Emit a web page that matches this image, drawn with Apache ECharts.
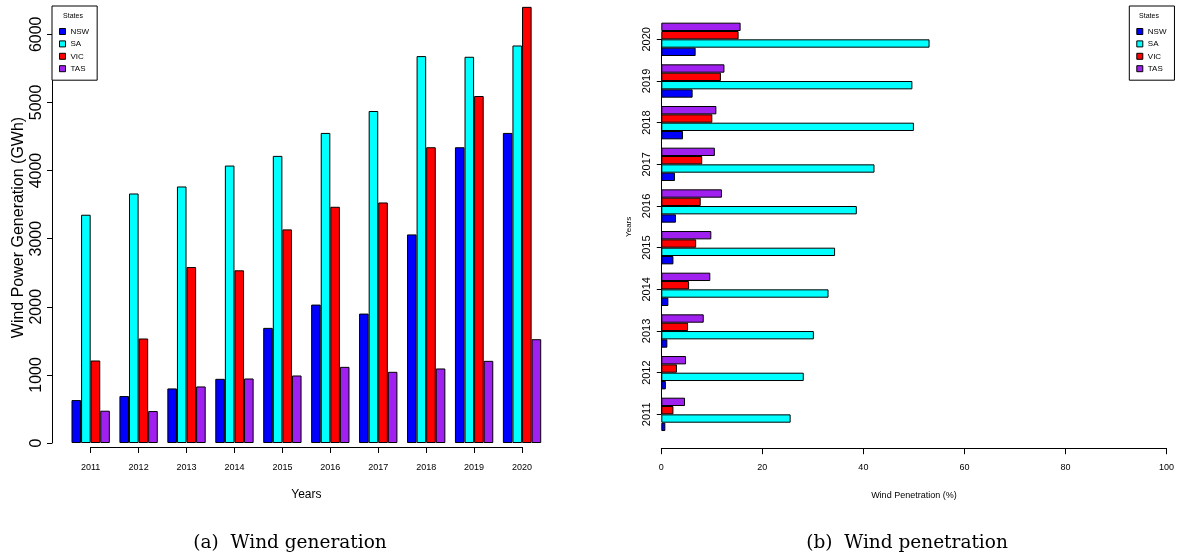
<!DOCTYPE html>
<html><head><meta charset="utf-8">
<script src="https://cdn.jsdelivr.net/npm/echarts@6/dist/echarts.min.js"></script>
<style>html,body{margin:0;padding:0;background:#fff}#c{width:1177px;height:560px}</style>
</head><body><div id="c"></div>
<script>
const years = ['2011','2012','2013','2014','2015','2016','2017','2018','2019','2020'];
const states = ['NSW','SA','VIC','TAS'];
const stateColors = ['#0000FF','#00FFFF','#FF0000','#A020F0'];
// Wind generation (GWh)
const genNSW = [630,689,801,942,1690,2032,1900,3062,4342,4552];
const genSA  = [3351,3663,3766,4073,4215,4552,4874,5680,5670,5836];
const genVIC = [1211,1534,2583,2535,3136,3468,3531,4342,5094,6403];
const genTAS = [474,469,830,947,991,1118,1045,1094,1206,1524];
// Wind penetration (%)
const penNSW = [0.8,0.9,1.2,1.4,2.4,2.9,2.7,4.3,6.2,6.8];
const penSA  = [25.6,28.2,30.2,33.1,34.4,38.7,42.2,50.0,49.7,53.1];
const penVIC = [2.4,3.1,5.3,5.5,6.9,7.8,8.1,10.1,11.8,15.3];
const penTAS = [4.7,4.9,8.4,9.7,9.9,12.0,10.6,10.9,12.5,15.7];
const genAxis = {min:0, max:6000, interval:1000};
const penAxis = {min:0, max:100, interval:20};

const gen = [genNSW, genSA, genVIC, genTAS];
const pen = [penNSW, penSA, penVIC, penTAS];
const SANS = '"Liberation Sans",Arial,sans-serif';
const SERIF = '"DejaVu Serif",serif';
const axisBlack = {lineStyle:{color:'#000', width:1}};

const series = [];
states.forEach((s,i)=>{
  series.push({name:s, type:'bar', xAxisIndex:0, yAxisIndex:0, data:gen[i],
    barGap:'0%', barCategoryGap:'20%', clip:false,
    itemStyle:{color:stateColors[i], borderColor:'#000', borderWidth:1}});
});
// horizontal chart: later series drawn lower, so add in reverse to put NSW at the bottom
for (let i = states.length-1; i >= 0; i--) {
  series.push({name:states[i], type:'bar', xAxisIndex:2, yAxisIndex:2, data:pen[i],
    barGap:'0%', barCategoryGap:'20%',
    itemStyle:{color:stateColors[i], borderColor:'#000', borderWidth:1}});
}

function legendAt(left){
  return {orient:'vertical', left:left, top:6, padding:[21,8,7,7], data:states,
    itemWidth:6, itemHeight:6, itemGap:3.4, itemTextGap:5, icon:'rect', borderColor:'#000', borderWidth:1,
    backgroundColor:'#fff', selectedMode:false,
    itemStyle:{borderColor:'#000', borderWidth:1},
    textStyle:{fontFamily:SANS, fontSize:8, lineHeight:9, color:'#000'}};
}

const option = {
  backgroundColor:'#fff',
  animation:false,
  grid:[
    {left:66.7, right:631, top:34.3, bottom:117},
    {left:90.7, right:655, top:8, bottom:113},
    {left:661.3, right:8.7, top:18.5, bottom:124.8},
    {left:661.3, right:8.7, top:39.3, bottom:145.7}
  ],
  xAxis:[
    {gridIndex:0, type:'category', data:years, show:false},
    {gridIndex:1, type:'category', data:years, boundaryGap:false, position:'bottom',
      axisLine:axisBlack, axisTick:{length:6, lineStyle:{color:'#000'}},
      axisLabel:{fontFamily:SANS, fontSize:9, color:'#000', margin:16, interval:0},
      name:'Years', nameLocation:'middle', nameGap:42,
      nameTextStyle:{fontFamily:SANS, fontSize:12, color:'#000'}},
    {gridIndex:2, type:'value', min:penAxis.min, max:penAxis.max, interval:penAxis.interval,
      position:'bottom', offset:13, splitLine:{show:false},
      axisLine:{show:true, lineStyle:{color:'#000'}}, axisTick:{show:true, length:6, lineStyle:{color:'#000'}},
      axisLabel:{fontFamily:SANS, fontSize:9, color:'#000', margin:15},
      name:'Wind Penetration (%)', nameLocation:'middle', nameGap:43,
      nameTextStyle:{fontFamily:SANS, fontSize:9, color:'#000'}},
    {gridIndex:3, type:'value', min:0, max:100, show:false}
  ],
  yAxis:[
    {gridIndex:0, type:'value', min:genAxis.min, max:genAxis.max, interval:genAxis.interval,
      offset:14.7, splitLine:{show:false},
      axisLine:{show:true, lineStyle:{color:'#000'}}, axisTick:{show:true, length:5, lineStyle:{color:'#000'}},
      axisLabel:{fontFamily:SANS, fontSize:16, color:'#000', rotate:90, margin:7, formatter:v=>String(v)}},
    {gridIndex:1, type:'value', min:0, max:1, axisLine:{show:false}, axisTick:{show:false},
      axisLabel:{show:false}, splitLine:{show:false},
      name:'Wind Power Generation (GWh)', nameLocation:'middle', nameGap:64, nameRotate:90,
      nameTextStyle:{fontFamily:SANS, fontSize:16, color:'#000'}},
    {gridIndex:2, type:'category', data:years, show:false},
    {gridIndex:3, type:'category', data:years, boundaryGap:false,
      axisLine:axisBlack, axisTick:{length:4.5, lineStyle:{color:'#000'}},
      axisLabel:{fontFamily:SANS, fontSize:11, color:'#000', rotate:90, margin:9, interval:0},
      name:'Years', nameLocation:'middle', nameGap:29, nameRotate:90,
      nameTextStyle:{fontFamily:SANS, fontSize:8, color:'#000'}}
  ],
  legend:[legendAt(52), legendAt(1129.3)],
  graphic:[
    {type:'text', x:73, y:16, style:{text:'States', font:'7px '+SANS, fill:'#000', textAlign:'center', textVerticalAlign:'middle'}, z:100},
    {type:'text', x:1149, y:16, style:{text:'States', font:'7px '+SANS, fill:'#000', textAlign:'center', textVerticalAlign:'middle'}, z:100},
    {type:'text', x:290, y:543, style:{text:'(a)  Wind generation', font:'18.5px '+SERIF, fill:'#000', textAlign:'center', textVerticalAlign:'middle'}},
    {type:'text', x:907, y:543, style:{text:'(b)  Wind penetration', font:'18.5px '+SERIF, fill:'#000', textAlign:'center', textVerticalAlign:'middle'}}
  ],
  series:series
};
const chart = echarts.init(document.getElementById('c'), null, {renderer:'canvas'});
chart.setOption(option);
</script></body></html>
